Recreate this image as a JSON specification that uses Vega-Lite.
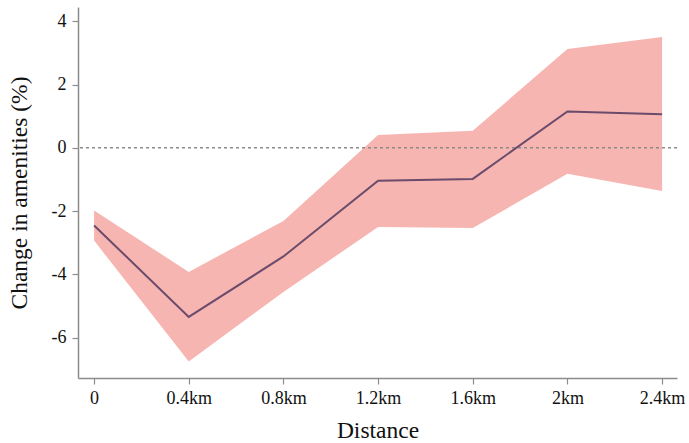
{
  "$schema": "https://vega.github.io/schema/vega-lite/v6.json",
  "width": 599,
  "height": 371,
  "autosize": {"type": "none"},
  "padding": {"left": 78, "top": 7, "right": 12, "bottom": 65},
  "background": "white",
  "config": {
    "view": {"stroke": null},
    "font": "Liberation Serif",
    "axis": {
      "grid": false,
      "domainColor": "#8c8c8c",
      "tickColor": "#8c8c8c",
      "domainWidth": 1.5,
      "tickWidth": 1.2,
      "tickSize": 6,
      "labelFont": "Liberation Serif",
      "titleFont": "Liberation Serif",
      "labelFontSize": 18,
      "titleFontSize": 23.5,
      "titleFontWeight": "normal",
      "labelColor": "#111",
      "titleColor": "#111"
    }
  },
  "data": {
    "values": [
      {"d": 0.0, "est": -2.45, "lo": -2.93, "hi": -1.98},
      {"d": 0.4, "est": -5.34, "lo": -6.75, "hi": -3.92},
      {"d": 0.8, "est": -3.43, "lo": -4.55, "hi": -2.31},
      {"d": 1.2, "est": -1.04, "lo": -2.50, "hi": 0.41},
      {"d": 1.6, "est": -0.98, "lo": -2.53, "hi": 0.54},
      {"d": 2.0, "est": 1.15, "lo": -0.82, "hi": 3.12},
      {"d": 2.4, "est": 1.06, "lo": -1.36, "hi": 3.50}
    ]
  },
  "layer": [
    {
      "mark": {"type": "area", "color": "#f6b5b1", "opacity": 1},
      "encoding": {
        "x": {
          "field": "d", "type": "quantitative",
          "scale": {"domain": [-0.068, 2.463], "nice": false, "zero": false},
          "axis": {
            "title": "Distance",
            "values": [0, 0.4, 0.8, 1.2, 1.6, 2, 2.4],
            "labelExpr": "datum.value == 0 ? '0' : format(datum.value, '.1~f') + 'km'",
            "labelPadding": 5,
            "titlePadding": 11
          }
        },
        "y": {
          "field": "lo", "type": "quantitative",
          "scale": {"domain": [-7.27, 4.45], "nice": false, "zero": false},
          "axis": {
            "title": "Change in amenities (%)",
            "values": [-6, -4, -2, 0, 2, 4],
            "labelExpr": "datum.value < 0 ? '-' + abs(datum.value) : '' + datum.value",
            "labelPadding": 6,
            "titlePadding": 20
          }
        },
        "y2": {"field": "hi"}
      }
    },
    {
      "data": {"values": [{"z": 0}]},
      "mark": {"type": "rule", "color": "#8a8a8a", "strokeDash": [3, 3], "strokeWidth": 1.5},
      "encoding": {"y": {"field": "z", "type": "quantitative"}}
    },
    {
      "mark": {"type": "line", "color": "#6b4b6c", "strokeWidth": 2},
      "encoding": {
        "x": {"field": "d", "type": "quantitative"},
        "y": {"field": "est", "type": "quantitative"}
      }
    }
  ]
}
